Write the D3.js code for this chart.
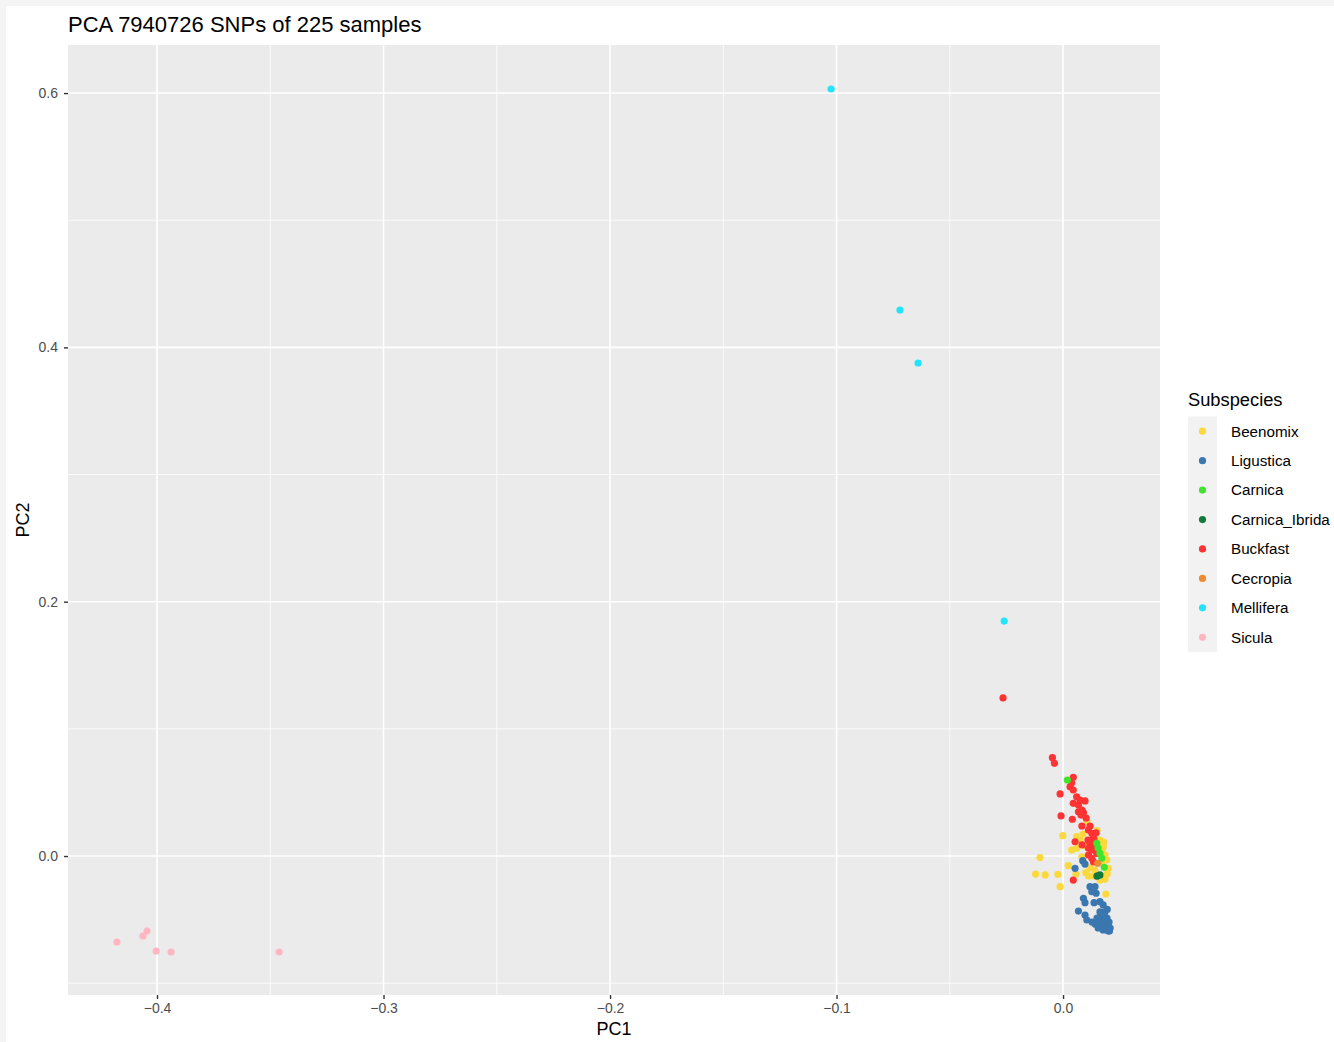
<!DOCTYPE html>
<html>
<head>
<meta charset="utf-8">
<script src="https://cdn.jsdelivr.net/npm/d3@7"></script>
<style>
  body { margin: 0; background: #f4f4f4; font-family: "Liberation Sans", Arial, sans-serif; }
  .tick text { fill: #4d4d4d; font-size: 14px; }
  .tick line { stroke: #333; }
</style>
</head>
<body>
<script>
var w = 1334;
var h = 1042;
var margin = {left: 68, right: 1160, top: 45, bottom: 995};

var subspecies = ["Beenomix", "Ligustica", "Carnica", "Carnica_Ibrida", "Buckfast", "Cecropia", "Mellifera", "Sicula"];
var colors = ["#fbd93c", "#3a77af", "#3ee52c", "#137a3a", "#ff3333", "#ef8a32", "#22e4fd", "#ffb6c1"];

var xTicks = [-0.4, -0.3, -0.2, -0.1, 0.0];
var yTicks = [0.0, 0.2, 0.4, 0.6];
var xMinor = [-0.35, -0.25, -0.15, -0.05];
var yMinor = [-0.1, 0.1, 0.3, 0.5];

// [PC1, PC2] per subspecies
var beenomix = [
  [0.0105, 0.0275], [-0.0001, 0.0160], [0.0060, 0.0152], [0.0075, 0.0126], [0.0060, 0.0061],
  [0.0038, 0.0047], [0.0178, 0.0073], [0.0185, 0.0008], [0.0193, -0.0031], [0.0200, -0.0097],
  [-0.0102, -0.0013], [0.0083, -0.0006], [0.0090, -0.0045], [0.0023, -0.0076], [-0.0121, -0.0142],
  [-0.0079, -0.0149], [-0.0023, -0.0144], [0.0057, -0.0142], [0.0112, -0.0157], [0.0134, -0.0157],
  [0.0185, -0.0183], [-0.0013, -0.0241], [0.0189, -0.0299], [0.0163, 0.0126], [0.0172, 0.0047],
  [0.0097, 0.0079], [0.0141, -0.0110], [0.0163, -0.0189], [0.0119, -0.0094], [0.0088, 0.0173],
  [0.0172, -0.0047], [0.0180, 0.0110], [0.0150, 0.0200], [0.0195, -0.0140], [0.0100, -0.0130]
];
var ligustica = [
  [0.0053, -0.0097], [0.0087, -0.0037], [0.0097, -0.0063], [0.0151, -0.0157], [0.0119, -0.0241],
  [0.0141, -0.0241], [0.0146, -0.0293], [0.0127, -0.0281], [0.0090, -0.0333], [0.0097, -0.0367],
  [0.0137, -0.0367], [0.0163, -0.0359], [0.0068, -0.0433], [0.0097, -0.0464], [0.0105, -0.0503],
  [0.0177, -0.0385], [0.0163, -0.0440], [0.0185, -0.0440], [0.0150, -0.0488], [0.0172, -0.0488],
  [0.0194, -0.0488], [0.0141, -0.0535], [0.0163, -0.0535], [0.0185, -0.0535], [0.0199, -0.0551],
  [0.0155, -0.0566], [0.0177, -0.0582], [0.0199, -0.0590], [0.0190, -0.0574], [0.0128, -0.0519],
  [0.0208, -0.0566], [0.0203, -0.0519], [0.0170, -0.0460], [0.0180, -0.0510], [0.0160, -0.0560],
  [0.0195, -0.0420], [0.0150, -0.0510], [0.0205, -0.0590]
];
var carnica = [
  [0.0019, 0.0598], [0.0149, 0.0100], [0.0163, 0.0021], [0.0171, -0.0018], [0.0182, -0.0089],
  [0.0155, 0.0063]
];
var carnicaIbrida = [[0.0163, -0.0149], [0.0150, -0.0157]];
var buckfast = [
  [-0.0265, 0.1243], [-0.0047, 0.0773], [-0.0038, 0.0729], [0.0045, 0.0619], [0.0038, 0.0576],
  [0.0031, 0.0545], [0.0045, 0.0519], [-0.0013, 0.0488], [0.0060, 0.0466], [0.0075, 0.0440],
  [0.0097, 0.0433], [0.0045, 0.0414], [0.0068, 0.0401], [0.0083, 0.0362], [0.0090, 0.0341],
  [0.0068, 0.0348], [0.0079, 0.0322], [-0.0009, 0.0315], [0.0041, 0.0289], [0.0083, 0.0236],
  [0.0119, 0.0236], [0.0112, 0.0204], [0.0127, 0.0179], [0.0146, 0.0183], [0.0134, 0.0152],
  [0.0053, 0.0112], [0.0110, 0.0126], [0.0119, 0.0100], [0.0112, 0.0061], [0.0127, 0.0047],
  [0.0141, 0.0073], [0.0149, 0.0021], [0.0112, 0.0008], [0.0127, -0.0018], [0.0134, -0.0045],
  [0.0045, -0.0189], [0.0102, 0.0299], [0.0137, 0.0126], [0.0084, 0.0087]
];
var cecropia = [[0.0153, -0.0057]];
var mellifera = [[-0.1024, 0.6032], [-0.0720, 0.4294], [-0.0640, 0.3877], [-0.0260, 0.1848]];
var sicula = [
  [-0.4177, -0.0676], [-0.4062, -0.0629], [-0.4044, -0.0590], [-0.4004, -0.0747],
  [-0.3938, -0.0755], [-0.3461, -0.0755]
];

var groups = [beenomix, ligustica, carnica, carnicaIbrida, buckfast, cecropia, mellifera, sicula];
// draw order: yellow under blue under red, then the rest
var drawOrder = [0, 1, 4, 2, 3, 5, 6, 7];

var xScale = d3.scaleLinear()
               .domain([-0.4393, 0.0428])
               .range([margin.left, margin.right]);

var yScale = d3.scaleLinear()
               .domain([-0.1093, 0.6378])
               .range([margin.bottom, margin.top]);

var svg = d3.select("body")
            .append("svg")
            .attr("width", w)
            .attr("height", h)
            .style("display", "block");

svg.append("rect")
   .attr("x", 0).attr("y", 0).attr("width", w).attr("height", h)
   .attr("fill", "#f4f4f4");
svg.append("rect")
   .attr("x", 6).attr("y", 6).attr("width", w - 6).attr("height", h - 6)
   .attr("fill", "#ffffff");

// panel
svg.append("rect")
   .attr("x", margin.left)
   .attr("y", margin.top)
   .attr("width", margin.right - margin.left)
   .attr("height", margin.bottom - margin.top)
   .attr("fill", "#ebebeb");

// minor grid
svg.selectAll("xMinor")
   .data(xMinor)
   .enter()
   .append("line")
   .attr("x1", function(d) { return xScale(d); })
   .attr("x2", function(d) { return xScale(d); })
   .attr("y1", margin.top)
   .attr("y2", margin.bottom)
   .attr("stroke", "#fff")
   .attr("stroke-width", 0.8);

svg.selectAll("yMinor")
   .data(yMinor)
   .enter()
   .append("line")
   .attr("x1", margin.left)
   .attr("x2", margin.right)
   .attr("y1", function(d) { return yScale(d); })
   .attr("y2", function(d) { return yScale(d); })
   .attr("stroke", "#fff")
   .attr("stroke-width", 0.8);

// major grid
svg.selectAll("xMajor")
   .data(xTicks)
   .enter()
   .append("line")
   .attr("x1", function(d) { return xScale(d); })
   .attr("x2", function(d) { return xScale(d); })
   .attr("y1", margin.top)
   .attr("y2", margin.bottom)
   .attr("stroke", "#fff")
   .attr("stroke-width", 1.6);

svg.selectAll("yMajor")
   .data(yTicks)
   .enter()
   .append("line")
   .attr("x1", margin.left)
   .attr("x2", margin.right)
   .attr("y1", function(d) { return yScale(d); })
   .attr("y2", function(d) { return yScale(d); })
   .attr("stroke", "#fff")
   .attr("stroke-width", 1.6);

// points
drawOrder.forEach(function(i) {
  svg.append("g")
     .selectAll("circle")
     .data(groups[i])
     .enter()
     .append("circle")
     .attr("cx", function(d) { return xScale(d[0]); })
     .attr("cy", function(d) { return yScale(d[1]); })
     .attr("r", 3.6)
     .attr("fill", colors[i]);
});

// axes
var xAxis = d3.axisBottom()
              .scale(xScale)
              .tickValues(xTicks)
              .tickSize(4)
              .tickPadding(4)
              .tickFormat(d3.format(".1f"));

var yAxis = d3.axisLeft()
              .scale(yScale)
              .tickValues(yTicks)
              .tickSize(4)
              .tickPadding(6)
              .tickFormat(d3.format(".1f"));

var gx = svg.append("g")
   .attr("transform", "translate(0," + margin.bottom + ")")
   .call(xAxis);
gx.select(".domain").remove();
gx.selectAll(".tick line").attr("stroke-width", 1.4);
gx.selectAll(".tick text").attr("font-size", 14.5);

var gy = svg.append("g")
   .attr("transform", "translate(" + margin.left + ",0)")
   .call(yAxis);
gy.select(".domain").remove();
gy.selectAll(".tick line").attr("stroke-width", 1.4);

svg.selectAll(".tick text").attr("font-family", "Liberation Sans, Arial, sans-serif");

// titles
svg.append("text")
   .attr("x", margin.left)
   .attr("y", 32)
   .attr("font-size", 22)
   .attr("fill", "#000")
   .text("PCA 7940726 SNPs of 225 samples");

svg.append("text")
   .attr("x", (margin.left + margin.right) / 2)
   .attr("y", 1035)
   .attr("text-anchor", "middle")
   .attr("font-size", 18)
   .text("PC1");

svg.append("text")
   .attr("transform", "translate(29," + ((margin.top + margin.bottom) / 2) + ") rotate(-90)")
   .attr("text-anchor", "middle")
   .attr("font-size", 18)
   .text("PC2");

// legend
var legY = d3.scaleBand()
             .domain(subspecies)
             .range([416.5, 652])
             .paddingInner(0);

svg.append("text")
   .attr("x", 1188)
   .attr("y", 406)
   .attr("font-size", 18.3)
   .text("Subspecies");

svg.append("rect")
   .attr("x", 1188)
   .attr("y", legY.range()[0])
   .attr("width", 29)
   .attr("height", legY.range()[1] - legY.range()[0])
   .attr("fill", "#f2f2f2");

var items = svg.selectAll("legItem")
   .data(subspecies)
   .enter()
   .append("g")
   .attr("transform", function(d) {
     return "translate(0," + (legY(d) + legY.bandwidth() / 2) + ")";
   });

items.append("circle")
     .attr("cx", 1202.5)
     .attr("cy", 0)
     .attr("r", 3.6)
     .attr("fill", function(d, i) { return colors[i]; });

items.append("text")
     .attr("x", 1231)
     .attr("y", 0)
     .attr("dy", "0.35em")
     .attr("font-size", 15.2)
     .text(function(d) { return d; });
</script>
</body>
</html>
